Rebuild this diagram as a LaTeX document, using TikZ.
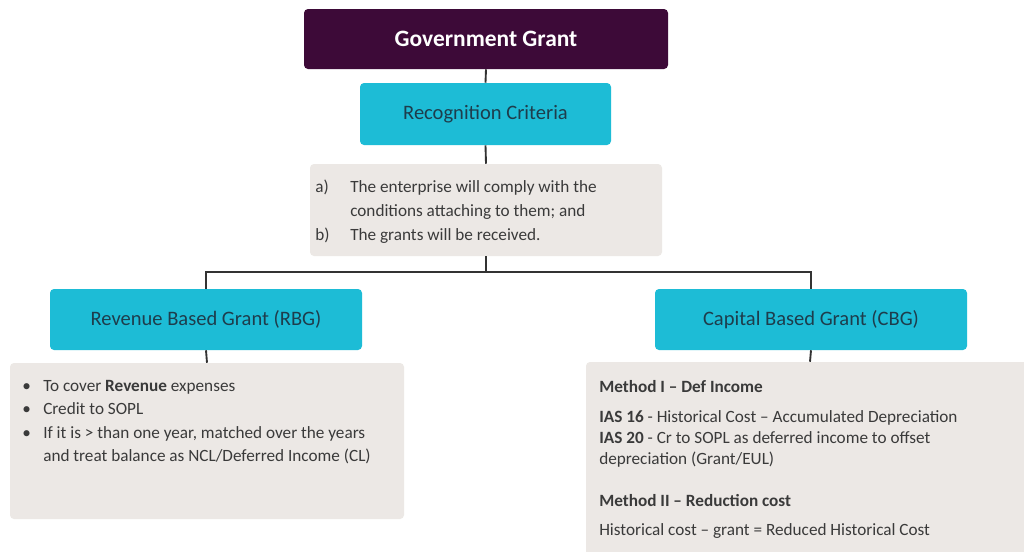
\documentclass[tikz,border=0pt]{standalone}
\usepackage{fontspec}
\setmainfont{Carlito}
\definecolor{govc}{HTML}{3D0A38}
\definecolor{cyanc}{HTML}{1DBCD6}
\definecolor{greyc}{HTML}{ECE8E5}
\definecolor{txtc}{HTML}{3A3A3A}
\definecolor{cytxt}{HTML}{1E3D4C}
\definecolor{linec}{HTML}{333333}
\begin{document}
\begin{tikzpicture}[x=0.75pt,y=-0.75pt,
  box/.style={rounded corners=3pt, inner sep=0pt, draw=none},
  govbox/.style={box, fill=govc, text=white, font=\fontsize{17.6}{21}\selectfont\bfseries},
  cybox/.style={box, fill=cyanc, text=cytxt, font=\fontsize{15.4}{18}\selectfont},
  greybox/.style={box, fill=greyc},
  bodytext/.style={inner sep=0pt, align=left, text=txtc, anchor=north west},
  conn/.style={draw=linec, line width=1.4pt}]
\useasboundingbox (0,0) rectangle (1024,551);
\fill[white] (0,0) rectangle (1024,551);
% boxes
\node[govbox, minimum width=273pt, minimum height=45pt] (gov) at (486,39) {Government Grant};
\node[cybox, minimum width=188.25pt, minimum height=46.5pt] (rec) at (485.5,114) {Recognition Criteria};
\node[greybox, minimum width=264pt, minimum height=69pt] (crit) at (486,210) {};
\node[cybox, minimum width=234pt, minimum height=45.75pt] (rbg) at (206,319.5) {Revenue Based Grant (RBG)};
\node[cybox, minimum width=234pt, minimum height=45.75pt] (cbg) at (811,319.5) {Capital Based Grant (CBG)};
\node[greybox, minimum width=295.5pt, minimum height=117pt] (rbgb) at (207,441) {};
\node[greybox, minimum width=336pt, minimum height=148.5pt] (cbgb) at (810,461) {};
% connectors
\coordinate (split) at (486,272);
\draw[conn] (gov.south) -- (rec.north);
\draw[conn] (rec.south) -- (crit.north);
\draw[conn] (crit.south) -- (split);
\draw[conn] (rbg.north) |- (split) -| (cbg.north);
\draw[conn] (rbg.south) -- (rbgb.north);
\draw[conn] (cbg.south) -- (cbgb.north);
% texts
\node[bodytext, font=\fontsize{12.9}{17.5}\selectfont] (crittext) at (315,180)
 {\makebox[26.25pt][l]{a)}The enterprise will comply with the\\
  \makebox[26.25pt][l]{}conditions attaching to them; and\\[1pt]
  \makebox[26.25pt][l]{b)}The grants will be received.};
\node[bodytext, font=\fontsize{12.9}{17.5}\selectfont] (rbgtext) at (22,380)
 {\makebox[15.75pt][l]{\textbullet}To cover \textbf{Revenue} expenses\\
  \makebox[15.75pt][l]{\textbullet}Credit to SOPL\\
  \makebox[15.75pt][l]{\textbullet}If it is > than one year, matched over the years\\
  \makebox[15.75pt][l]{}and treat balance as NCL/Deferred Income (CL)};
\node[bodytext, font=\fontsize{12.9}{15.75}\selectfont] (cbgtext) at (599,380)
 {\textbf{Method I – Def Income}\\[6.75pt]
  \textbf{IAS 16} - Historical Cost – Accumulated Depreciation\\
  \textbf{IAS 20} - Cr to SOPL as deferred income to offset\\
  depreciation (Grant/EUL)\\[15.75pt]
  \textbf{Method II – Reduction cost}\\[6pt]
  Historical cost – grant = Reduced Historical Cost};
\end{tikzpicture}
\end{document}
